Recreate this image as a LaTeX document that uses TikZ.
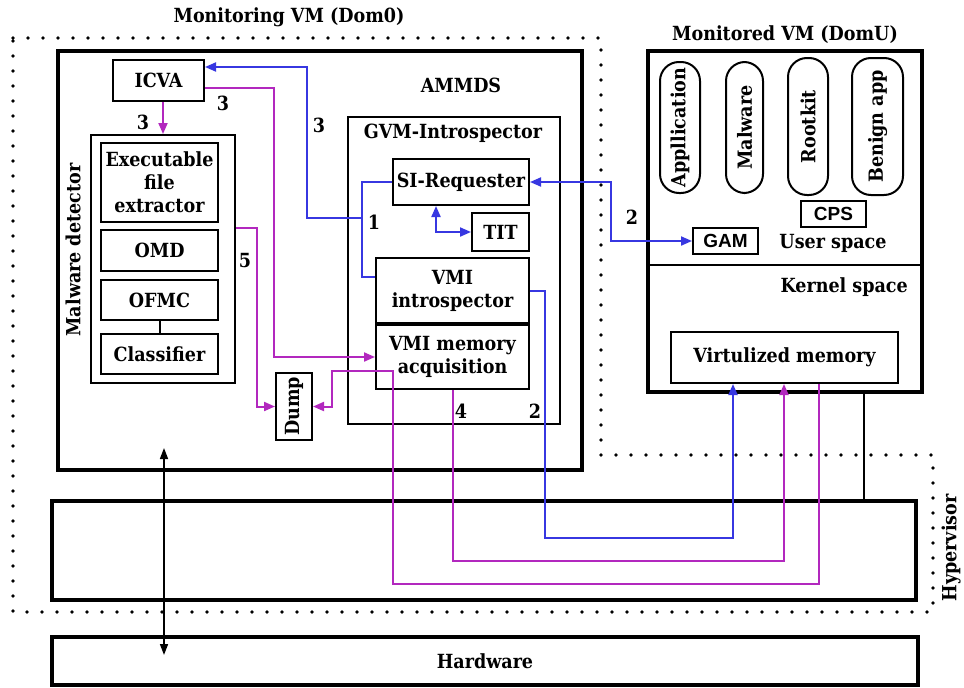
\documentclass[tikz,border=0pt]{standalone}
\usepackage{fontspec}
\setmainfont{DejaVu Serif Condensed}
\newfontfamily\sansf{Liberation Sans}
\usetikzlibrary{arrows.meta}
\definecolor{myblue}{RGB}{55,55,225}
\definecolor{mypurple}{RGB}{178,40,190}
\begin{document}
\begin{tikzpicture}[x=1pt,y=-1pt,
  every node/.style={font=\bfseries\fontsize{19.5}{23}\selectfont},
  box/.style={draw, line width=2pt, inner sep=0pt, align=center},
  tbox/.style={draw, line width=3.2pt, inner sep=0pt},
  oval/.style={draw, line width=2pt, inner sep=0pt, rotate=90, rounded corners=19pt},
  bl/.style={draw=myblue, line width=2pt},
  pu/.style={draw=mypurple, line width=2pt},
  arr/.style={-{Triangle[length=11pt,width=9pt]}},
  arrboth/.style={{Triangle[length=11pt,width=9pt]}-{Triangle[length=11pt,width=9pt]}},
  dotline/.style={line width=3.6pt, dash pattern=on 0pt off 15pt, line cap=round},
  lbl/.style={inner sep=0pt},
  sanslbl/.style={font=\sansf\bfseries\fontsize{19}{22}\selectfont}
]
\useasboundingbox (0,0) rectangle (964,688);

% dotted Dom0 / hypervisor region
\draw[dotline] (13,38) -- (601,38) -- (601,455) -- (933,455) -- (933,612) -- (13,612) -- cycle;
\node[lbl] (t0) at (289,17) {Monitoring VM (Dom0)};

% AMMDS
\node[tbox, minimum width=524pt, minimum height=419pt] (ammds) at (320,260.5) {};
\node[lbl] (ammdst) at (461,85) {AMMDS};

\node[box, minimum width=91pt, minimum height=41pt] (icva) at (158.5,80.5) {ICVA};
\node[box, minimum width=144pt, minimum height=248pt] (maldet) at (163,259) {};
\node[lbl, rotate=90] (maldett) at (73,250) {Malware detector};
\node[box, minimum width=117pt, minimum height=79pt] (exe) at (159.5,182.5) {Executable\\file\\extractor};
\node[box, minimum width=117pt, minimum height=41pt] (omd) at (159.5,250.5) {OMD};
\node[box, minimum width=117pt, minimum height=40pt] (ofmc) at (159.5,300) {OFMC};
\node[box, minimum width=117pt, minimum height=40pt] (classifier) at (159.5,354) {Classifier};
\draw[line width=2pt] (ofmc.south) -- (classifier.north);
\node[box, rotate=90, minimum width=67pt, minimum height=36pt] (dump) at (294,406.5) {Dump};

% GVM-Introspector
\node[box, minimum width=212pt, minimum height=307pt] (gvm) at (454,270.5) {};
\node[lbl] (gvmt) at (453,133) {GVM-Introspector};
\node[box, minimum width=136pt, minimum height=46pt] (sireq) at (461,182) {SI-Requester};
\node[box, minimum width=57pt, minimum height=38pt] (tit) at (500.5,232) {TIT};
\node[box, minimum width=153pt, minimum height=65pt] (vmiint) at (452.5,290.5) {VMI\\introspector};
\node[box, minimum width=153pt, minimum height=64pt] (vmimem) at (452.5,357) {VMI memory\\acquisition};

% DomU
\node[lbl] (t1) at (785,35) {Monitored VM (DomU)};
\node[tbox, minimum width=274pt, minimum height=341pt] (domu) at (785,221.5) {};
\draw[line width=2.5pt] (domu.west |- 0,265) -- (domu.east |- 0,265);
\node[oval, minimum width=131pt, minimum height=40pt] (app) at (680,127.5) {Appllication};
\node[oval, minimum width=131pt, minimum height=37pt] (malw) at (744.5,127.5) {Malware};
\node[oval, minimum width=137pt, minimum height=40pt] (rootkit) at (808,126.5) {Rootkit};
\node[oval, minimum width=137pt, minimum height=51pt] (benign) at (877.5,126.5) {Benign app};
\node[box, sanslbl, minimum width=65pt, minimum height=26pt] (cps) at (833.5,214) {CPS};
\node[box, sanslbl, minimum width=65pt, minimum height=26pt] (gam) at (725.5,241) {GAM};
\node[lbl] (us) at (833,243) {User space};
\node[lbl, anchor=east] (ks) at (908,287) {Kernel space};
\node[box, minimum width=227pt, minimum height=51pt] (virtmem) at (784.5,357.5) {Virtulized memory};

% Hypervisor and hardware
\node[tbox, minimum width=864pt, minimum height=99pt] (hyp) at (484,550.5) {};
\node[lbl, rotate=90] (hypt) at (951,548) {Hypervisor};
\node[tbox, minimum width=866pt, minimum height=48pt] (hw) at (485,661) {Hardware};

% blue connectors
\coordinate (j1) at (362,218);
\draw[bl, arr] (j1) -- (307,218) -- (307,67) -- ([yshift=13.5pt]icva.east);
\draw[bl] (sireq.west) -- (362,182) -- (362,277) -- ([yshift=13.5pt]vmiint.west);
\draw[bl, arrboth] (sireq.east) -- (611,182) |- (gam.west);
\draw[bl, arrboth] ([xshift=-25pt]sireq.south) |- (tit.west);
\draw[bl, arr] (vmiint.east) -- (545,290.5) -- (545,538) -- (733,538) -- (733,0 |- virtmem.south);

% purple connectors
\draw[pu, arr] ([xshift=4.5pt]icva.south) -- (163,0 |- maldet.north);
\draw[pu, arr] ([yshift=-7.5pt]icva.east) -- (274,88) -- (274,357) -- (vmimem.west);
\draw[pu, arr] ([yshift=31pt]maldet.east) -- (257,228) -- (257,406.5) -- (dump.north);
\draw[pu, arr] (819,0 |- virtmem.south) -- (819,584) -- (393,584) -- (393,371) -- (332,371) -- (332,406.5) -- (dump.south);
\draw[pu, arr] (453,0 |- vmimem.south) -- (453,561) -- (784,561) -- (784,0 |- virtmem.south);

% black connectors
\draw[line width=1.6pt] (864,0 |- domu.south) -- (864,0 |- hyp.north);
\coordinate (up) at (164,448);
\coordinate (down) at (164,655);
\draw[line width=1.6pt, {Triangle[length=11pt,width=8pt]}-{Triangle[length=11pt,width=8pt]}] (up) -- (down);

% labels
\node[lbl] (l3a) at (143,122) {3};
\node[lbl] (l3b) at (223,103) {3};
\node[lbl] (l3c) at (319,125) {3};
\node[lbl] (l1) at (374,222) {1};
\node[lbl] (l2a) at (632,217) {2};
\node[lbl] (l5) at (245,261) {5};
\node[lbl] (l4) at (461,411) {4};
\node[lbl] (l2b) at (535,411) {2};
\end{tikzpicture}
\end{document}
